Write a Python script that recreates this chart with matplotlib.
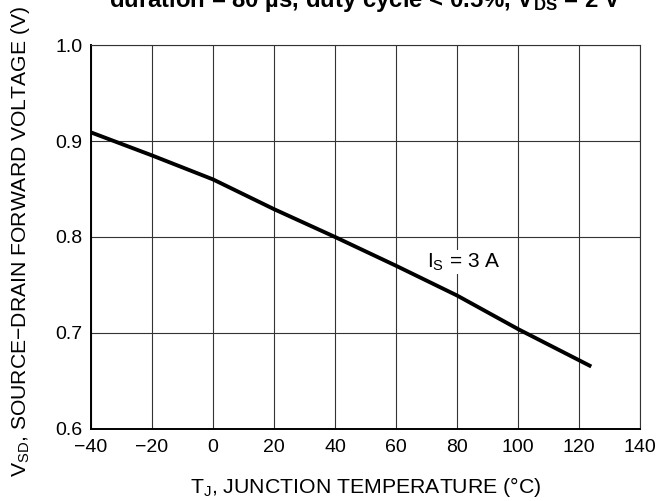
import numpy as np
import matplotlib
matplotlib.use("Agg")
import matplotlib.pyplot as plt

plt.rcParams['font.family'] = ['Liberation Sans', 'DejaVu Sans']
plt.rcParams['mathtext.default'] = 'regular'

# data
temp_c = [-40, -20, 0, 20, 40, 60, 80, 100, 124]
vsd = [0.909, 0.885, 0.860, 0.829, 0.800, 0.770, 0.739, 0.704, 0.665]
x_ticks = [-40, -20, 0, 20, 40, 60, 80, 100, 120, 140]
y_ticks = [0.6, 0.7, 0.8, 0.9, 1.0]

fig = plt.figure(figsize=(6.64, 5.01), dpi=100)
ax = fig.add_axes([0.137, 0.144, 0.827, 0.766])

ax.plot(temp_c, vsd, color='black', linewidth=2.8, solid_capstyle='butt', zorder=3)

ax.set_xlim(-40, 140)
ax.set_ylim(0.6, 1.0)
ax.set_xticks(x_ticks)
ax.set_yticks(y_ticks)
ax.set_yticklabels([f"{v:.1f}" for v in y_ticks])
ax.tick_params(length=0, labelsize=14, colors='black')
ax.tick_params(axis='x', pad=7)
ax.tick_params(axis='y', pad=6)
ax.grid(True, color='#333333', linewidth=0.8)
ax.set_axisbelow(True)

for side in ['top', 'right']:
    ax.spines[side].set_linewidth(0.8)
    ax.spines[side].set_color('#333333')
for side in ['left', 'bottom']:
    ax.spines[side].set_linewidth(1.4)
    ax.spines[side].set_color('black')

ax.text(70.3, 0.774, r'I$_{S}$ = 3 A', fontsize=15, va='center', ha='left',
        bbox=dict(facecolor='white', edgecolor='none', pad=1), zorder=2)

ax.set_xlabel(r'T$_{J}$, JUNCTION TEMPERATURE ($\degree$C)', fontsize=15.3, labelpad=14)
ax.set_ylabel(r'V$_{SD}$, SOURCE$-$DRAIN FORWARD VOLTAGE (V)', fontsize=15.2)
ax.yaxis.set_label_coords(-0.108, 0.487)

fig.text(0.55, 0.986, 'duration = 80 µs, duty cycle < 0.5%, V$_{DS}$ = 2 V',
         fontsize=17.2, fontweight='bold', ha='center', va='baseline')

fig.savefig('out.png', dpi=100)
